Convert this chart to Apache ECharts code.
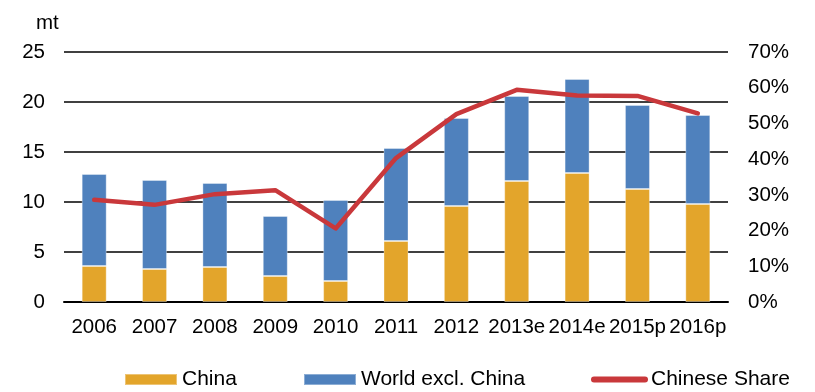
<!DOCTYPE html>
<html>
<head>
<meta charset="utf-8">
<script src="https://cdn.jsdelivr.net/npm/echarts@6/dist/echarts.min.js"></script>
<style>
  html, body { margin: 0; padding: 0; background: #fff; }
  #chart { width: 815px; height: 392px; }
</style>
</head>
<body>
<div id="chart"></div>
<script>
// Production by year (mt) and China's share of the total
const years = ['2006', '2007', '2008', '2009', '2010', '2011', '2012', '2013e', '2014e', '2015p', '2016p'];
const china = [3.6, 3.3, 3.5, 2.6, 2.1, 6.1, 9.6, 12.1, 12.9, 11.3, 9.8];
const worldExChina = [9.2, 8.9, 8.4, 6.0, 8.1, 9.3, 8.8, 8.5, 9.4, 8.4, 8.9];
const chineseShare = [0.286, 0.272, 0.302, 0.313, 0.206, 0.403, 0.526, 0.594, 0.578, 0.577, 0.528];

const FONT = '"Liberation Sans", Arial, sans-serif';
const AXIS_FONT = 20.5;
const LEGEND_FONT = 21;
const legendText = { fontFamily: FONT, fontSize: LEGEND_FONT, color: '#000' };
const chart = echarts.init(document.getElementById('chart'));

chart.setOption({
  animation: false,
  textStyle: { fontFamily: FONT },
  title: {
    text: 'mt',
    left: 31,
    top: 8,
    textStyle: { fontFamily: FONT, fontSize: AXIS_FONT, fontWeight: 'normal', color: '#000' }
  },
  grid: { left: 64, right: 87, top: 52, bottom: 90 },
  legend: [
    {
      left: 124, top: 369, padding: 0, itemWidth: 52, itemHeight: 11,
      textStyle: legendText,
      data: [{ name: 'China', icon: 'rect' }]
    },
    {
      left: 303, top: 369, padding: 0, itemWidth: 52, itemHeight: 11,
      textStyle: legendText,
      data: [{ name: 'World excl. China', icon: 'rect' }]
    },
    {
      left: 591, top: 369, padding: 0, itemWidth: 57, itemHeight: 11,
      textStyle: Object.assign({ padding: [0, 0, 0, -2] }, legendText),
      data: [{
        name: 'Chinese Share',
        icon: 'path://M3,0 L54,0 A3,3 0 0 1 54,6 L3,6 A3,3 0 0 1 3,0 Z'
      }]
    }
  ],
  xAxis: {
    type: 'category',
    data: years,
    axisLine: { lineStyle: { color: '#000', width: 2 } },
    axisTick: { length: 6, lineStyle: { color: '#000', width: 1.5 } },
    axisLabel: { fontFamily: FONT, fontSize: AXIS_FONT, color: '#000', margin: 15, interval: 0 }
  },
  yAxis: [
    {
      type: 'value',
      min: 0, max: 25, interval: 5,
      axisLine: { show: false },
      axisTick: { show: false },
      axisLabel: { fontFamily: FONT, fontSize: AXIS_FONT, color: '#000', margin: 19 },
      splitLine: { lineStyle: { color: '#000', width: 1.6 } }
    },
    {
      type: 'value',
      min: 0, max: 0.7, interval: 0.1,
      position: 'right',
      axisLine: { show: false },
      axisTick: { show: false },
      splitLine: { show: false },
      axisLabel: {
        fontFamily: FONT, fontSize: AXIS_FONT, color: '#000', margin: 20,
        formatter: v => Math.round(v * 100) + '%'
      }
    }
  ],
  series: [
    {
      name: 'China',
      type: 'bar',
      stack: 'total',
      barWidth: 25,
      data: china,
      itemStyle: { color: '#E3A52B', borderColor: 'rgba(255,255,255,0.35)', borderWidth: 1 }
    },
    {
      name: 'World excl. China',
      type: 'bar',
      stack: 'total',
      barWidth: 25,
      data: worldExChina,
      itemStyle: { color: '#4F81BD', borderColor: 'rgba(255,255,255,0.35)', borderWidth: 1 }
    },
    {
      name: 'Chinese Share',
      type: 'line',
      yAxisIndex: 1,
      data: chineseShare,
      symbol: 'none',
      lineStyle: { color: '#C9383B', width: 4.5, cap: 'round', join: 'round' },
      itemStyle: { color: '#C9383B' }
    }
  ]
});
</script>
</body>
</html>
